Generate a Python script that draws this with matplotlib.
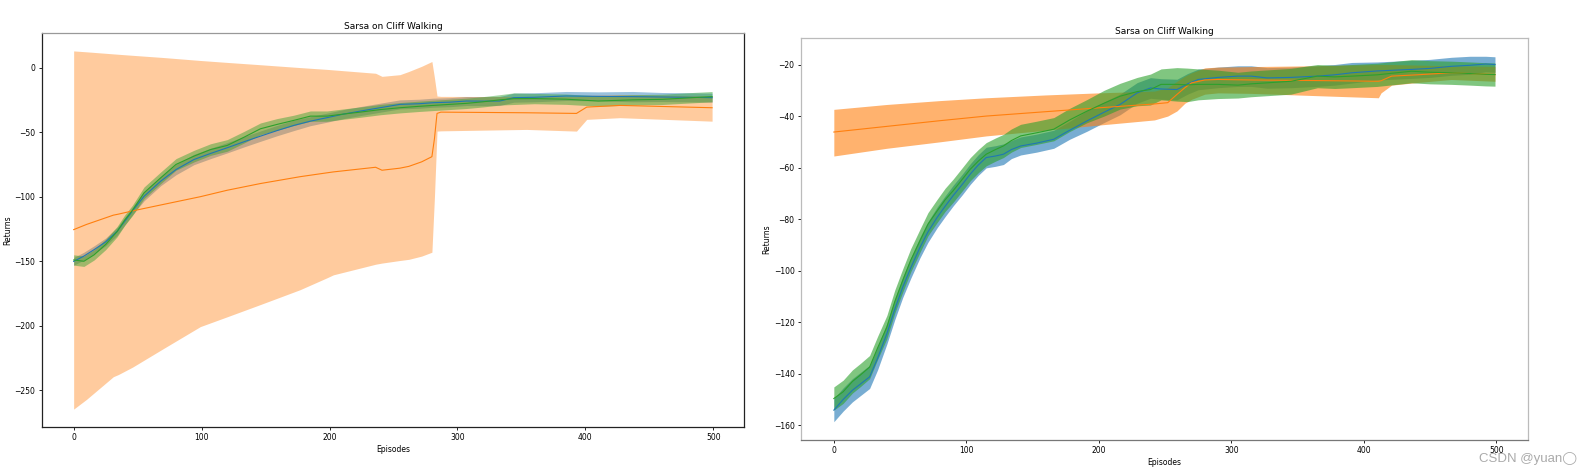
import matplotlib
matplotlib.use("Agg")
import matplotlib.pyplot as plt
import numpy as np

# ---- left panel data ----
left_x = [0, 8, 16, 25, 34, 40, 46, 55, 68, 80, 94, 107, 120, 133, 146, 159, 172, 185,
          198, 211, 224, 240, 255, 270, 281, 294, 307, 320, 333, 344, 360, 385, 410, 437,
          460, 480, 499]
left_blue = [-150.1, -146, -141, -135, -126.8, -119, -111, -99.7, -88, -79, -71.2, -66.5,
             -62.1, -57.5, -53.1, -48.8, -44.8, -41.5, -38.8, -36, -33.7, -31, -28.5, -28,
             -27.2, -26.8, -25.9, -26, -25.9, -23.3, -23, -22, -22.3, -22.5, -22.8, -23, -23.3]
left_blue_hw = [3, 3, 3, 3, 3, 3, 3, 3.5, 3.5, 4, 4, 4, 4, 4, 4, 4, 4, 3.5, 3.5, 3.5, 3.5,
                3.5, 3.5, 3.5, 3.5, 3.5, 3.5, 3.5, 3.5, 3.5, 3.5, 3.5, 3.5, 4, 3.5, 3.5, 3.5]
left_green = [-149, -150, -145, -137, -127, -118, -110.5, -97, -85.4, -75, -68.6, -63.5,
              -60.3, -54, -47.4, -44, -40.9, -37.6, -37.6, -36, -34.5, -32.5, -31.1, -30,
              -29.3, -28.5, -27.7, -26.5, -25, -24.1, -24, -24.5, -25.9, -25, -24.6, -23.5, -22.5]
left_green_hw = [4, 4, 4, 4, 4, 4, 4, 4.5, 4.5, 4.5, 4.5, 4.5, 4.5, 4.5, 4.5, 4.5, 4, 4, 4,
                 4, 4, 4, 4, 4, 4, 4, 4, 4, 4, 4.5, 4, 4, 4, 4, 4, 4, 4]

left_ox = [0, 10, 31, 35, 46, 70, 99, 120, 146, 177, 198, 203, 236, 241, 255, 262, 272,
           280, 282, 284, 287, 354, 393, 401, 427, 499]
left_orange = [-125.5, -121.5, -114.3, -113.5, -111, -106, -100, -95, -89.8, -84.5, -81.5,
               -80.8, -77.2, -79.5, -77.9, -76.5, -73, -69, -55, -35.5, -34.5, -35, -35.5,
               -30.6, -29.3, -31.1]
left_orange_hi = [12.9, 12.2, 10.6, 10.3, 9.5, 7.8, 5.5, 4, 2.2, 0, -1.4, -1.8, -4.4, -6.8,
                  -5.5, -3, 1, 4.7, -8, -22, -22.3, -22.5, -22.5, -21.5, -21, -22]
left_orange_lo = [-264.5, -257, -239.4, -237.7, -232, -217.7, -200.6, -193, -183.5, -172,
                  -162.8, -160.5, -152.3, -151.4, -149.4, -148.5, -146, -143, -100, -49.2,
                  -49, -47.9, -49.2, -40.1, -38.8, -41.5]

# ---- right panel data ----
right_x = [0, 7, 14, 20, 27, 33, 40, 46, 52, 58, 65, 71, 78, 84, 90, 97, 103, 109, 115, 122,
           128, 134, 141, 153, 166, 178, 191, 204, 216, 229, 239, 247, 259, 267, 275, 290,
           305, 315, 327, 345, 365, 378, 391, 410, 436, 450, 466, 480, 492, 499]
right_blue = [-154.1, -150, -146.4, -144, -141.2, -134, -124.5, -115, -106.4, -99, -91, -85,
              -79.3, -75, -70.9, -66.5, -62.5, -59, -56.1, -55.5, -54.8, -53, -51.6, -50.5,
              -49, -45.5, -41.9, -38.5, -35.5, -31, -29.1, -29.5, -29.7, -27.5, -25.8, -25,
              -24.5, -24.5, -25.2, -25, -24.5, -24, -23.2, -22.5, -21.9, -21.5, -20.7, -20.3,
              -19.8, -20]
right_blue_hw = [4.5, 4.5, 4.5, 4.5, 4.5, 4.5, 4, 4, 4, 4, 4, 4, 4, 4, 4, 4, 4, 4, 4, 4, 4,
                 3.5, 3.5, 3.5, 3.5, 3.5, 4, 4, 4, 4, 4, 4, 4, 4, 4, 4, 4, 4, 4, 4, 4, 4, 4,
                 3.5, 3.5, 3.5, 3.5, 3.5, 3, 3]
right_green = [-149.6, -147, -143, -140.5, -137.4, -130, -121.9, -112, -103.8, -96, -88.4,
               -82, -76.8, -72.5, -69, -64.5, -60.6, -57.5, -54.8, -53, -51.6, -49.5, -47.7,
               -46.5, -45.1, -41.5, -38.1, -35, -32.3, -30.5, -29.7, -27.7, -27.7, -27.9,
               -27.7, -27.7, -28, -27.5, -27.1, -26.5, -24.5, -24.8, -24.5, -24, -22.6, -23,
               -23.2, -23.5, -23.8, -23.9]
right_green_hw = [4.5, 4.5, 4.5, 4.5, 4.5, 4.5, 4.5, 4.5, 4.5, 4.5, 4.5, 4.5, 4.5, 4.5, 4.5,
                  4.5, 4.5, 4.5, 4.5, 4.5, 4.5, 4.5, 4.5, 4.5, 4.5, 4.5, 4.5, 5, 5, 5.5, 6, 6,
                  6.5, 6.5, 6, 5.5, 5, 5, 5, 5, 4.5, 4.5, 4.5, 4.5, 4.5, 4.5, 4.5, 4.5, 4.5, 4.5]

right_ox = [0, 40, 80, 115, 160, 200, 242, 252, 259, 265, 270, 280, 290, 315, 360, 411, 413,
            421, 440, 466, 499]
right_orange = [-46.2, -44, -41.8, -40, -38.3, -36.8, -35.3, -34.8, -31.6, -29, -27.1, -26,
                -25.8, -26, -26.2, -26.5, -26.3, -24.5, -24, -23.2, -23.9]
right_orange_hi = [-37.4, -35.5, -34, -32.9, -31.8, -31, -30.3, -29, -26.5, -24.5, -23.2,
                   -21.3, -21, -20.8, -20.5, -20, -20, -20, -20.2, -20.5, -20.7]
right_orange_lo = [-55.5, -52.5, -50, -47.7, -45.5, -43.5, -41.5, -40, -38, -35, -33.5,
                   -31.5, -31, -31.2, -32, -32.9, -31, -28, -27, -25.8, -26.5]

plt.rcParams["font.size"] = 5.5

fig = plt.figure(figsize=(15.81, 4.75), dpi=100)
ax1 = fig.add_axes([0.0264, 0.101, 0.4442, 0.8295])
ax2 = fig.add_axes([0.5065, 0.0737, 0.46, 0.8463])


def band(ax, x, mean, lo, hi, color, alpha):
    ax.plot(x, mean, color=color, lw=0.8)
    ax.fill_between(x, lo, hi, color=color, alpha=alpha, lw=0)


# left
lb = np.array(left_blue)
lg = np.array(left_green)
band(ax1, left_x, lb, lb - np.array(left_blue_hw), lb + np.array(left_blue_hw), "C0", 0.45)
band(ax1, left_ox, left_orange, left_orange_lo, left_orange_hi, "C1", 0.4)
band(ax1, left_x, lg, lg - np.array(left_green_hw), lg + np.array(left_green_hw), "C2", 0.45)
ax1.set_title("Sarsa on Cliff Walking", fontsize=6.5, pad=3)
ax1.set_xlabel("Episodes", labelpad=2)
ax1.set_ylabel("Returns", labelpad=2)
for s in ["left", "right", "bottom"]:
    ax1.spines[s].set_color("#222222")
ax1.spines["top"].set_color("#999999")

# right
rb = np.array(right_blue)
rg = np.array(right_green)
band(ax2, right_x, rb, rb - np.array(right_blue_hw), rb + np.array(right_blue_hw), "C0", 0.6)
band(ax2, right_ox, right_orange, right_orange_lo, right_orange_hi, "C1", 0.6)
band(ax2, right_x, rg, rg - np.array(right_green_hw), rg + np.array(right_green_hw), "C2", 0.6)
ax2.set_yticks(range(-160, 0, 20))
ax2.set_title("Sarsa on Cliff Walking", fontsize=6.5, pad=3)
ax2.set_xlabel("Episodes", labelpad=2)
ax2.set_ylabel("Returns", labelpad=2)
for s in ["left", "right", "top"]:
    ax2.spines[s].set_color("#bbbbbb")
ax2.spines["bottom"].set_color("#777777")

for ax in (ax1, ax2):
    ax.tick_params(length=2.5, width=0.6, pad=2)
    for sp in ax.spines.values():
        sp.set_linewidth(0.9)

fig.text(0.9355, 0.034, "CSDN @yuan\u25ef", color="#aaaaaa", fontsize=9.5,
         family=["Liberation Sans", "DejaVu Sans"], va="center")

fig.savefig("out.png", dpi=100)
